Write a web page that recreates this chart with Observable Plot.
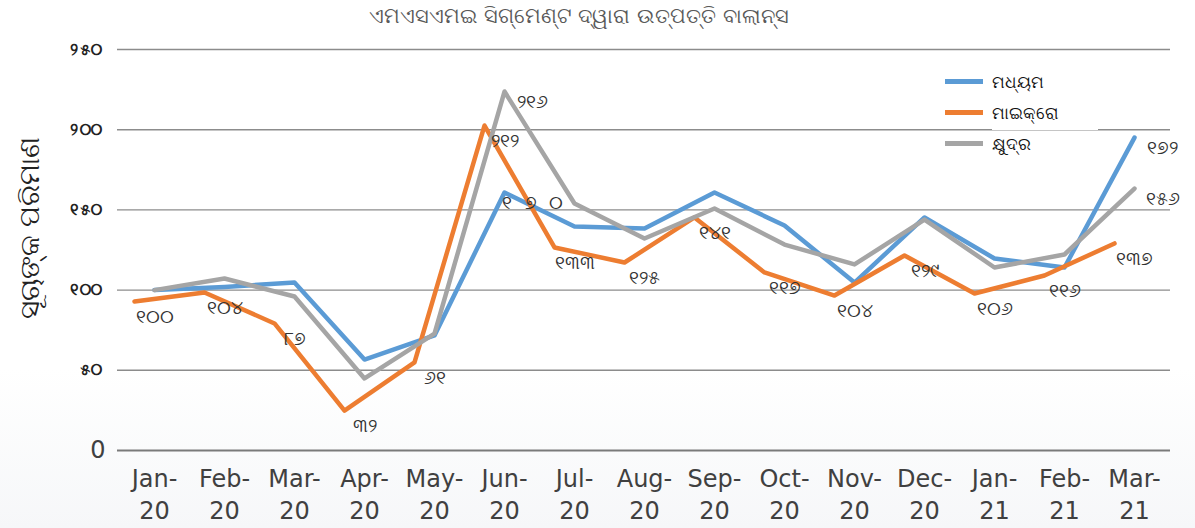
<!DOCTYPE html>
<html>
<head>
<meta charset="utf-8">
<script src="https://cdn.jsdelivr.net/npm/d3@7"></script>
<script src="https://cdn.jsdelivr.net/npm/@observablehq/plot@0.6"></script>
<style>
  body { margin: 0; background: #fff; font-family: "DejaVu Sans", "Noto Sans", sans-serif; }
  #wrap { position: relative; width: 1195px; height: 528px; overflow: hidden; background: linear-gradient(#ffffff 0%, #ffffff 70%, #f6f7f9 100%); }
  #chart { position: absolute; left: 0; top: 0; }
  #title { position: absolute; left: 0; top: 4px; width: 1158px; text-align: center; font-size: 21px; color: #595959; white-space: nowrap; }
  #ytitle { position: absolute; left: 30px; top: 228px; transform: translate(-50%, -50%) rotate(-90deg); font-size: 28px; color: #222; white-space: nowrap; }
  #lbox { position: absolute; left: 992px; top: 62px; width: 106px; height: 68px; background: #fff; }
  #legend { position: absolute; left: 945px; top: 66px; }
  .row { display: flex; align-items: center; height: 31px; }
  .sw { width: 38px; height: 5px; margin-right: 9px; }
  .lt { font-size: 17px; color: #111; }
</style>
</head>
<body>
<div id="wrap">
  <div id="chart"></div>
  <div id="title"></div>
  <div id="ytitle"></div>
  <div id="lbox"></div>
  <div id="legend"></div>
</div>
<script>
// ---- data ----
const titleText = "ଏମଏସଏମଇ ସିଗ୍ମେଣ୍ଟ ଦ୍ୱାରା ଉତ୍ପତ୍ତି ବାଲାନ୍ସ";
const yTitleText = "ସୂଚାଙ୍କ ପରିମାଣ";
const months = ["Jan-20","Feb-20","Mar-20","Apr-20","May-20","Jun-20","Jul-20","Aug-20","Sep-20","Oct-20","Nov-20","Dec-20","Jan-21","Feb-21","Mar-21"];
const seriesNames = ["ମଧ୍ୟମ", "ମାଇକ୍ରୋ", "କ୍ଷୁଦ୍ର"];
const seriesColors = ["#5B9BD5", "#ED7D31", "#A5A5A5"];
const mediumValues = [100, 102, 104.7, 56.7, 71.7, 160.8, 139.7, 138.4, 160.8, 140.3, 104.7, 145.3, 119.7, 114.1, 195.1];
const microValues  = [92.9, 98.5, 79.2, 24.9, 54.9, 202.6, 126.6, 117.2, 145.3, 111, 96.6, 121.6, 97.9, 109.1, 129.1];
const smallValues  = [100, 107.2, 96, 44.9, 72.9, 223.8, 154, 132.2, 150.9, 128.4, 116, 144, 114.1, 122.2, 163.3];
const microLabels  = ["୧୦୦","୧୦୪","୮୭","୩୨","୬୧","୨୧୨","୧୩୩","୧୨୫","୧୪୧","୧୧୭","୧୦୪","୧୨୯","୧୦୬","୧୧୬","୧୩୭"];
const extraLabelMonths = ["Jun-20", "Jun-20", "Mar-21", "Mar-21"];
const extraLabelSeries = [0, 2, 0, 2];
const extraLabelTexts  = ["୧  ୭  ୦", "୨୧୬", "୧୭୨", "୧୫୬"];
const yTicks = [50, 100, 150, 200, 250];
const yTickLabels = ["୫୦", "୧୦୦", "୧୫୦", "୨୦୦", "୨୫୦"];

// ---- build ----
const seriesValues = [mediumValues, microValues, smallValues];
const rowsFor = (k) => months.map((m, j) => ({month: m, value: seriesValues[k][j]}));
const extraRows = extraLabelMonths.map((m, i) => ({
  month: m,
  value: seriesValues[extraLabelSeries[i]][months.indexOf(m)],
  text: extraLabelTexts[i]
}));

document.getElementById("title").textContent = titleText;
document.getElementById("ytitle").textContent = yTitleText;

const chart = Plot.plot({
  width: 1195,
  height: 528,
  marginTop: 49,
  marginBottom: 78,
  marginLeft: 117,
  marginRight: 25,
  style: {background: "transparent", fontFamily: "DejaVu Sans, Noto Sans, sans-serif"},
  x: {type: "point", domain: months, padding: 0.5, label: null},
  y: {domain: [0, 250], label: null},
  marks: [
    Plot.gridY(yTicks, {stroke: "#8c8c8c", strokeOpacity: 1, strokeWidth: 1.4}),
    Plot.ruleY([0], {stroke: "#7a7a7a", strokeWidth: 1.8}),
    Plot.axisY(yTicks, {tickSize: 0, tickPadding: 16, tickFormat: d => yTickLabels[yTicks.indexOf(d)], fontSize: 16, fontWeight: "bold", color: "#222", label: null}),
    Plot.axisY([0], {tickSize: 0, tickPadding: 12, fontSize: 24, color: "#404040", label: null}),
    Plot.axisX({tickSize: 0, tickPadding: 14, tickFormat: d => d.replace("-", "-\n"), fontSize: 24, color: "#404040", lineHeight: 1.33, label: null}),
    Plot.line(rowsFor(0), {x: "month", y: "value", stroke: seriesColors[0], strokeWidth: 4.5}),
    Plot.line(rowsFor(1), {x: "month", y: "value", stroke: seriesColors[1], strokeWidth: 4.5, dx: -20}),
    Plot.line(rowsFor(2), {x: "month", y: "value", stroke: seriesColors[2], strokeWidth: 4.5}),
    Plot.text(rowsFor(1), {x: "month", y: "value", text: (d, i) => microLabels[i], dy: 15, fontSize: 19, fill: "#333"}),
    Plot.text(extraRows, {x: "month", y: "value", text: "text", dx: 28, dy: 10, fontSize: 19, fill: "#333"})
  ]
});
document.getElementById("chart").appendChild(chart);

const legend = document.getElementById("legend");
seriesNames.forEach((name, i) => {
  const row = document.createElement("div");
  row.className = "row";
  const sw = document.createElement("div");
  sw.className = "sw";
  sw.style.background = seriesColors[i];
  const lt = document.createElement("span");
  lt.className = "lt";
  lt.textContent = name;
  row.appendChild(sw);
  row.appendChild(lt);
  legend.appendChild(row);
});
</script>
</body>
</html>
